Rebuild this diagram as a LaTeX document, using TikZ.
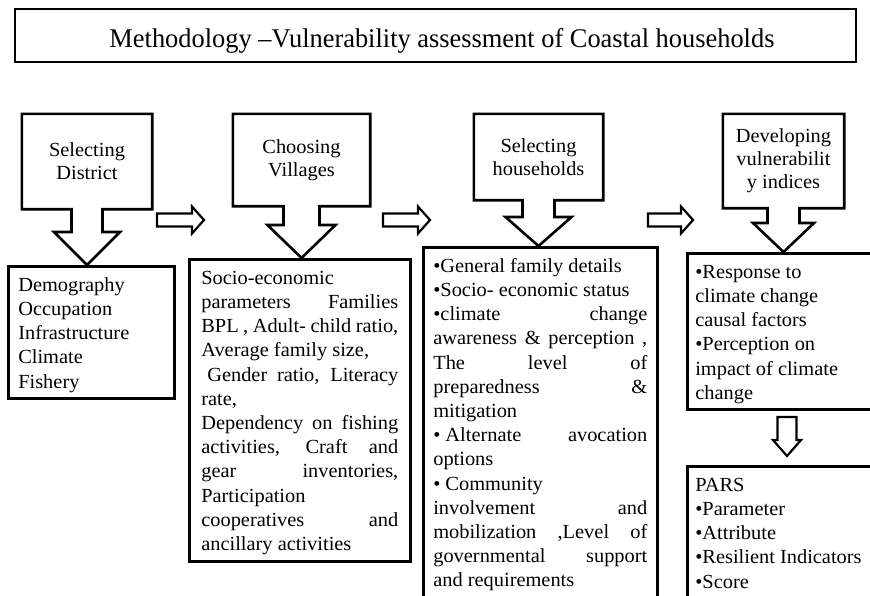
\documentclass[tikz,border=0pt]{standalone}
\usepackage{fontspec}
\setmainfont{Liberation Serif}[FakeStretch=1.02]
\usepackage{graphicx}
\usetikzlibrary{calc}

\newcommand{\jl}[1]{\makebox[\linewidth][s]{#1}}
\newcommand{\callout}[5]{%
  \coordinate (#1tip) at (#1.south |- #2.north);
  \draw[outline] (#1.north west) -- (#1.north east) -- (#1.south east)
    -- ([xshift=#3]#1.south) -- ([xshift=#3,yshift=#5]#1tip)
    -- ([xshift=#4,yshift=#5]#1tip) -- (#1tip)
    -- ([xshift=-#4,yshift=#5]#1tip) -- ([xshift=-#3,yshift=#5]#1tip)
    -- ([xshift=-#3]#1.south) -- (#1.south west) -- cycle;}
\newcommand{\flowright}[2]{%
  \draw[outline, line width=2.2pt] ([yshift=6.5pt]#1) -- ([xshift=-12pt,yshift=6.5pt]#2)
    -- ([xshift=-12pt,yshift=13.5pt]#2) -- (#2) -- ([xshift=-12pt,yshift=-13.5pt]#2)
    -- ([xshift=-12pt,yshift=-6.5pt]#2) -- ([yshift=-6.5pt]#1) -- cycle;}
\newcommand{\flowdown}[2]{%
  \draw[outline, line width=2.2pt] ([xshift=-9.5pt]#1) -- ([xshift=9.5pt]#1)
    -- ([xshift=9.5pt,yshift=16pt]#2) -- ([xshift=14pt,yshift=16pt]#2) -- (#2)
    -- ([xshift=-14pt,yshift=16pt]#2) -- ([xshift=-9.5pt,yshift=16pt]#2) -- cycle;}

\begin{document}
\begin{tikzpicture}[x=1pt, y=-1pt,
    outline/.style={draw=black, line width=2.6pt, line join=miter},
    stepbox/.style={inner sep=0pt, align=center, font=\fontsize{20}{23}\selectfont},
    infobox/.style={draw=black, line width=2.6pt, anchor=north west,
        inner xsep=10pt, inner ysep=0pt, text height=25pt,
        font=\fontsize{20}{24.2}\selectfont}
]
    \useasboundingbox (0,0) rectangle (870,595);
    \clip (0,0) rectangle (870,595);

    \node[draw=black, line width=2.6pt, minimum width=841pt, inner sep=0pt,
        text height=38pt, text depth=15pt] (title) at (435.5,35.5)
        {\hspace*{13pt}\resizebox{665pt}{\height}{\fontsize{27}{30}\selectfont Methodology –Vulnerability assessment of Coastal households}};

    \node[stepbox, minimum width=130pt, minimum height=95pt] (dist) at (87,161.5) {Selecting\\District};
    \node[stepbox, minimum width=137pt, minimum height=92pt] (vil) at (301.5,160) {Choosing\\Villages};
    \node[stepbox, minimum width=129pt, minimum height=86pt] (hh) at (538.5,157) {Selecting\\households};
    \node[stepbox, minimum width=121pt, minimum height=94pt] (dev) at (783.5,161) {Developing\\vulnerabilit\\y indices};

    \node[infobox, text depth=107pt] (demog) at (7,265)
        {\parbox[t]{146pt}{Demography\\Occupation\\Infrastructure\\Climate\\Fishery}};
    \node[infobox, inner xsep=12pt, text depth=277pt] (socio) at (188,258)
        {\parbox[t]{197pt}{Socio-economic\\
        \jl{parameters Families}\\
        \jl{BPL , Adult- child ratio,}\\
        Average family size,\\
        \jl{\hspace*{6pt}Gender ratio, Literacy}\\
        rate,\\
        \jl{Dependency on fishing}\\
        \jl{activities, Craft and}\\
        \jl{gear inventories,}\\
        Participation\\
        \jl{cooperatives and}\\
        ancillary activities}};
    \node[infobox, text depth=330pt] (family) at (422,246)
        {\parbox[t]{214pt}{•General family details\\
        •Socio- economic status\\
        \jl{•climate change}\\
        \jl{awareness \& perception ,}\\
        \jl{The level of}\\
        \jl{preparedness \&}\\
        mitigation\\
        \jl{•\hspace{5pt}Alternate avocation}\\
        options\\
        •\hspace{5pt}Community\\
        \jl{involvement and}\\
        \jl{mobilization ,Level of}\\
        \jl{governmental support}\\
        and requirements}};
    \node[infobox, inner xsep=8pt, text depth=131pt] (resp) at (686,252)
        {\parbox[t]{190pt}{•Response to\\climate change\\causal factors\\•Perception on\\impact of climate\\change}};
    \node[infobox, inner xsep=8pt, text depth=140pt] (pars) at (686,465)
        {\parbox[t]{190pt}{PARS\\•Parameter\\•Attribute\\•Resilient Indicators\\•Score}};

    \callout{dist}{demog}{15.5pt}{33pt}{33pt}
    \callout{vil}{socio}{18pt}{34pt}{33pt}
    \callout{hh}{family}{16pt}{33pt}{29pt}
    \callout{dev}{resp}{16pt}{30.5pt}{29pt}

    \coordinate (f1s) at (157,220);
    \coordinate (f1e) at (204,220);
    \coordinate (f2s) at (383,220);
    \coordinate (f2e) at (430,220);
    \coordinate (f3s) at (648,220);
    \coordinate (f3e) at (693,220);
    \coordinate (f4s) at (787,417);
    \coordinate (f4e) at (787,456);
    \flowright{f1s}{f1e}
    \flowright{f2s}{f2e}
    \flowright{f3s}{f3e}
    \flowdown{f4s}{f4e}
\end{tikzpicture}
\end{document}
